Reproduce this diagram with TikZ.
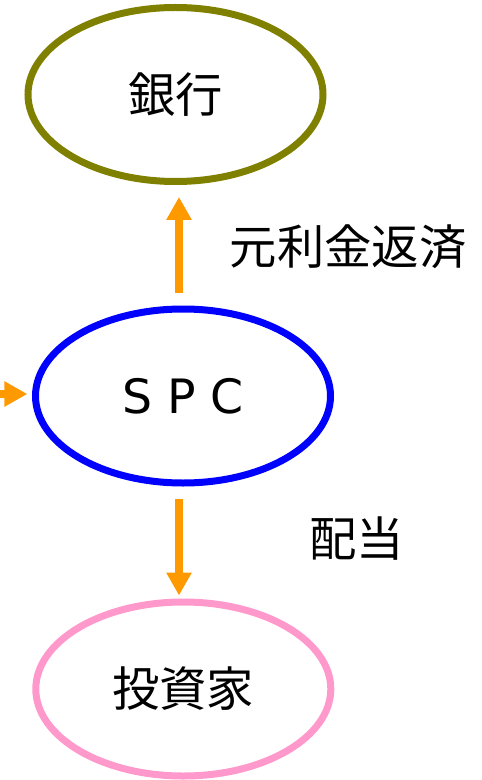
\documentclass[tikz,border=0pt]{standalone}
\usepackage{fontspec}
\setmainfont{Noto Sans CJK JP}
\newfontfamily\latinfont{DejaVu Sans}
\usetikzlibrary{arrows.meta,shapes.geometric}
\definecolor{bankcol}{HTML}{808000}
\definecolor{spccol}{HTML}{0000FF}
\definecolor{invcol}{HTML}{FF99CC}
\definecolor{arrcol}{HTML}{FF9900}
\tikzset{
  party/.style={ellipse, draw, line width=5.25pt, inner sep=0pt,
    minimum width=221.25pt, minimum height=130.5pt,
    font=\fontsize{35.5pt}{40pt}\selectfont},
  flow/.style={draw=arrcol, line width=6.2pt,
    -{Triangle[width=18pt,length=17.25pt]}, arrcol},
  lbl/.style={font=\fontsize{35.5pt}{40pt}\selectfont, inner sep=0pt}
}
\begin{document}
\begin{tikzpicture}[x=0.75pt,y=-0.75pt]
\useasboundingbox (0,0) rectangle (481,780);
\node[party, draw=bankcol] (bank) at (175.5,94.5) {\raisebox{-2.5pt}{銀行}};
\node[party, draw=spccol] (spc) at (183,396) {\raisebox{-2pt}{\latinfont\fontsize{35.5pt}{40pt}\selectfont S P C}};
\node[party, draw=invcol] (inv) at (183.3,689) {\raisebox{-3pt}{投資家}};
\coordinate (ax) at (179,0);
\coordinate (lin) at (-20,394);
\draw[flow, shorten <=9.75pt, shorten >=9pt] (spc.north -| ax) -- (bank.south -| ax);
\draw[flow, shorten <=9pt, shorten >=2.25pt] (spc.south -| ax) -- (inv.north -| ax);
\draw[flow, shorten >=3.5pt] (lin) -- (lin -| spc.west);
\node[lbl] (l1) at (348,247) {元利金返済};
\node[lbl] (l2) at (356.5,539) {配当};
\end{tikzpicture}
\end{document}
